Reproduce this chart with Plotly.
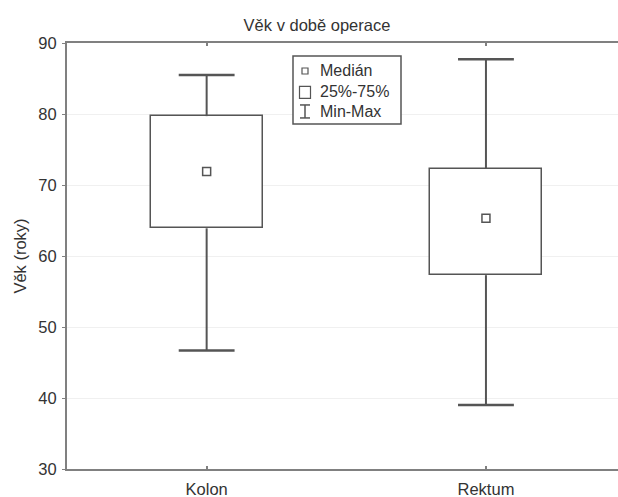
import plotly.graph_objects as go

# ---- data ----
categories = ["Kolon", "Rektum"]
minimum = [46.7, 39.0]
q1 = [63.9, 57.3]
median = [71.9, 65.3]
q3 = [79.7, 72.3]
maximum = [85.5, 87.7]
y_ticks = [30, 40, 50, 60, 70, 80, 90]
legend_labels = ["Medián", "25%-75%", "Min-Max"]
title_text = "Věk v době operace"
y_title = "Věk (roky)"

# ---- geometry / style ----
W, H = 618, 497
ML, MR, MT = 67, 0, 43
MB = H - 469.3
PW, PH = W - ML - MR, H - MT - MB
LINE = "#555555"
AXIS = "#808080"
TEXT = "#333333"
FONT = "Liberation Sans, Arial, sans-serif"
BOX_W = 0.4
CAP_HALF = 0.1

xs = list(range(len(categories)))


def px_x(p):
    return (p - ML) / PW


def px_y(p):
    return 1 - (p - MT) / PH


fig = go.Figure()

# boxes (Q1..Q3)
fig.add_trace(go.Bar(
    x=xs, y=[b - a for a, b in zip(q1, q3)], base=q1, width=BOX_W,
    marker=dict(color="white", line=dict(color=LINE, width=1.5)),
    hoverinfo="skip", showlegend=False,
))

# whiskers
wx, wy = [], []
for x, a, b, lo, hi in zip(xs, q1, q3, minimum, maximum):
    wx += [x, x, None, x, x, None]
    wy += [b, hi, None, a, lo, None]
fig.add_trace(go.Scatter(x=wx, y=wy, mode="lines",
                         line=dict(color=LINE, width=2),
                         hoverinfo="skip", showlegend=False))

# caps
cx, cy = [], []
for x, lo, hi in zip(xs, minimum, maximum):
    cx += [x - CAP_HALF, x + CAP_HALF, None, x - CAP_HALF, x + CAP_HALF, None]
    cy += [hi, hi, None, lo, lo, None]
fig.add_trace(go.Scatter(x=cx, y=cy, mode="lines",
                         line=dict(color=LINE, width=2.5),
                         hoverinfo="skip", showlegend=False))

# medians
fig.add_trace(go.Scatter(x=xs, y=median, mode="markers",
                         marker=dict(symbol="square-open", size=8,
                                     color=LINE, line=dict(width=1.5)),
                         hoverinfo="skip", showlegend=False))

# ---- manual legend ----
shapes = []
shapes.append(dict(type="rect", xref="paper", yref="paper",
                   x0=px_x(293), x1=px_x(401), y0=px_y(124), y1=px_y(56),
                   line=dict(color=LINE, width=1.5), fillcolor="white", layer="above"))
shapes.append(dict(type="rect", xref="paper", yref="paper",
                   x0=px_x(302), x1=px_x(308), y0=px_y(74), y1=px_y(68),
                   line=dict(color=LINE, width=1.2), layer="above"))
shapes.append(dict(type="rect", xref="paper", yref="paper",
                   x0=px_x(299.5), x1=px_x(310.5), y0=px_y(98.5), y1=px_y(86.5),
                   line=dict(color=LINE, width=1.2), layer="above"))
for (x0, y0, x1, y1) in [(305, 105, 305, 118), (300, 105, 310, 105), (300, 118, 310, 118)]:
    shapes.append(dict(type="line", xref="paper", yref="paper",
                       x0=px_x(x0), x1=px_x(x1), y0=px_y(y0), y1=px_y(y1),
                       line=dict(color=LINE, width=1.5), layer="above"))

annotations = []
for lab, yc in zip(legend_labels, [71, 92, 112]):
    annotations.append(dict(text=lab, xref="paper", yref="paper",
                            x=px_x(318), y=px_y(yc), xanchor="left", yanchor="middle",
                            showarrow=False, font=dict(size=16, color=TEXT, family=FONT)))

fig.update_layout(
    width=W, height=H,
    margin=dict(l=ML, r=MR, t=MT, b=MB, pad=0),
    paper_bgcolor="white", plot_bgcolor="white",
    font=dict(family=FONT, size=16, color=TEXT),
    title=dict(text=title_text, x=317 / W, xanchor="center",
               y=1 - 25 / H, yanchor="middle", xref="container", yref="container",
               font=dict(size=16.5, color=TEXT, family=FONT)),
    shapes=shapes, annotations=annotations,
    showlegend=False, bargap=0,
)

fig.update_xaxes(
    range=[-0.5, (W - ML) / 279.3 - 0.5],
    tickvals=xs, ticktext=categories,
    showline=True, linecolor=AXIS, linewidth=2, mirror="ticks",
    ticks="inside", ticklen=3, tickcolor=AXIS, tickwidth=1.5,
    showgrid=False, zeroline=False,
    ticklabelstandoff=4,
    tickfont=dict(size=16.5, color=TEXT, family=FONT),
)
fig.update_yaxes(
    range=[30, 90], tickvals=y_ticks,
    showline=True, linecolor=AXIS, linewidth=2, mirror=False,
    ticks="outside", ticklen=3, tickcolor=AXIS, tickwidth=1,
    showgrid=True, gridcolor="#f0f0f0", gridwidth=1, zeroline=False,
    ticklabelstandoff=2,
    tickfont=dict(size=16.5, color=TEXT, family=FONT),
    title=dict(text=y_title, standoff=8, font=dict(size=16.5, color=TEXT, family=FONT)),
)

# remove the browser's default page margin so the figure sits at the window's corner
fig.write_html("out.html", config={"displayModeBar": False},
               post_script="document.body.style.margin='0';")
